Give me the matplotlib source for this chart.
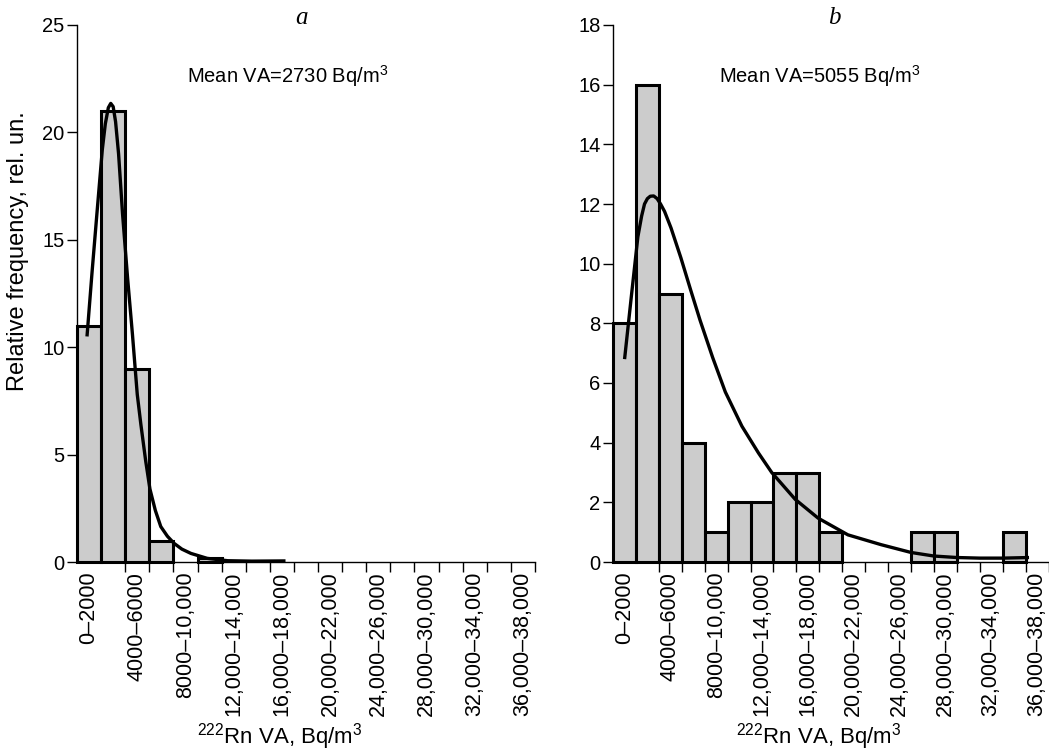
import numpy as np
import matplotlib
matplotlib.use("Agg")
import matplotlib.pyplot as plt

plt.rcParams["font.family"] = "Liberation Sans"
plt.rcParams["mathtext.fontset"] = "custom"
plt.rcParams["mathtext.rm"] = "Liberation Sans"
plt.rcParams["mathtext.it"] = "Liberation Sans:italic"

# ── Data ───────────────────────────────────────────────────────────────────────
BIN_W      = 2000
bin_starts = np.arange(0, 38000, BIN_W)          # 19 bins, 0..38,000 Bq/m3
bin_labels = ["0–2000", "4000–6000", "8000–10,000", "12,000–14,000",
              "16,000–18,000", "20,000–22,000", "24,000–26,000",
              "28,000–30,000", "32,000–34,000", "36,000–38,000"]

freq_a = [11, 21, 9, 1, 0, 0.2, 0, 0, 0, 0, 0, 0, 0, 0, 0, 0, 0, 0, 0]
freq_b = [8, 16, 9, 4, 1, 2, 2, 3, 3, 1, 0, 0, 0, 1, 1, 0, 0, 1, 0]

# fitted curves
fit_a_x = [830, 1250, 1650, 2100, 2350, 2600, 2800, 3000, 3200, 3450, 3780,
           4200, 4600, 5000, 5300, 5700, 6050, 6500, 6950, 7500, 8050, 8700,
           9450, 10800, 12500, 14500, 17300]
fit_a_y = [10.5, 13.5, 16.2, 19.2, 20.4, 21.15, 21.35, 21.2, 20.5, 19.0, 16.2,
           13.2, 10.6, 7.8, 6.4, 4.7, 3.4, 2.4, 1.65, 1.2, 0.87, 0.6,
           0.40, 0.17, 0.06, 0.04, 0.05]

fit_b_x = [1010, 1600, 2170, 2500, 2750, 3000, 3250, 3550, 3850, 4150, 4500,
           5060, 5920, 6790, 7600, 8700, 9800, 11250, 12700, 13850, 15900,
           17900, 20500, 23400, 26000, 28000, 30000, 32000, 34000, 36300]
fit_b_y = [6.8, 8.9, 10.9, 11.6, 12.0, 12.18, 12.26, 12.27, 12.18, 12.0, 11.75,
           11.2, 10.2, 9.1, 8.1, 6.85, 5.7, 4.55, 3.65, 3.0, 2.1,
           1.47, 0.91, 0.58, 0.32, 0.2, 0.15, 0.13, 0.13, 0.15]

FS_TICK = 14.5
FS_XTL  = 15.5
XLABEL  = r"$^{\mathrm{222}}$Rn VA, Bq/m$^{\mathrm{3}}$"

W, H = 1049, 753


def draw_panel(ax, freq, fit_x, fit_y, ymax, ystep, letter, mean_txt,
               letter_x, mean_x):
    freq = np.asarray(freq, dtype=float)
    keep = freq > 0
    ax.bar(bin_starts[keep], freq[keep], width=BIN_W, align="edge",
           color="#cccccc", edgecolor="black", linewidth=2.2,
           zorder=2, clip_on=False)
    ax.plot(fit_x, fit_y, color="black", lw=2.4, zorder=3,
            solid_capstyle="butt", solid_joinstyle="round")

    ax.set_xlim(0, 38000)
    ax.set_ylim(0, ymax)
    ax.set_yticks(np.arange(0, ymax + 0.1, ystep))
    for s in ("top", "right"):
        ax.spines[s].set_visible(False)
    for s in ("left", "bottom"):
        ax.spines[s].set_linewidth(1.0)

    ax.set_xticks(bin_starts[1:] + BIN_W)
    ax.set_xticklabels([])
    ax.set_xticks(bin_starts[::2] + BIN_W / 2, minor=True)
    ax.set_xticklabels(bin_labels, minor=True, rotation=90, va="top")
    ax.tick_params(axis="x", which="major", length=7, width=1, direction="out")
    ax.tick_params(axis="x", which="minor", length=0, pad=7, labelsize=FS_XTL)
    ax.tick_params(axis="y", length=7, width=1, pad=2, labelsize=FS_TICK)

    fig.text(letter_x / W, 1 - 18 / H, letter, ha="center", va="center",
             family="Liberation Serif", style="italic", fontsize=18)
    fig.text(mean_x / W, 1 - 76 / H, mean_txt, ha="center", va="center",
             fontsize=14.5)


fig = plt.figure(figsize=(10.49, 7.53), dpi=100)
ax_a = fig.add_axes([77 / W, 1 - 562 / H, (535 - 77) / W, (562 - 25) / H])
ax_b = fig.add_axes([613 / W, 1 - 562 / H, (1048.5 - 613) / W, (562 - 25) / H])

draw_panel(ax_a, freq_a, fit_a_x, fit_a_y, 25, 5, "a",
           r"Mean VA=2730 Bq/m$^{\mathrm{3}}$", 302, 288)
draw_panel(ax_b, freq_b, fit_b_x, fit_b_y, 18, 2, "b",
           r"Mean VA=5055 Bq/m$^{\mathrm{3}}$", 834, 820)

fig.text(280 / W, 1 - 737 / H, XLABEL, ha="center", va="center", fontsize=16)
fig.text(819 / W, 1 - 737 / H, XLABEL, ha="center", va="center", fontsize=16)
fig.text(18 / W, 1 - 251 / H, "Relative frequency, rel. un.", rotation=90,
         ha="center", va="center", fontsize=17)

fig.savefig("out.png", dpi=100)
